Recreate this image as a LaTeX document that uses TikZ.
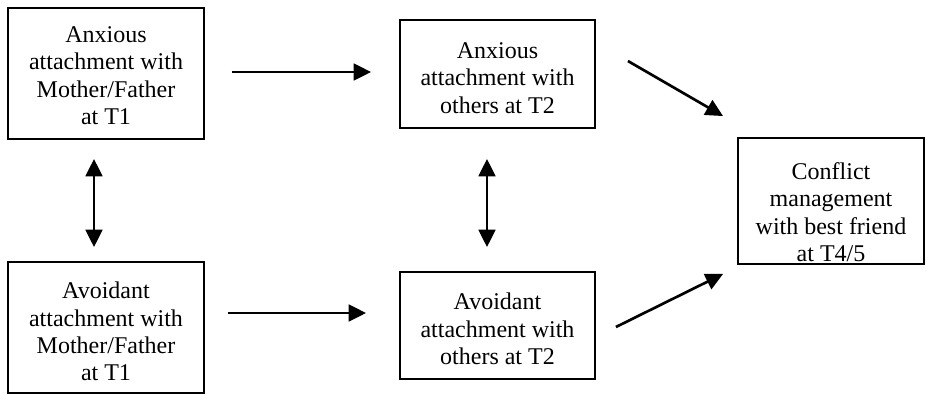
\documentclass[tikz,border=0pt]{standalone}
\usepackage{fontspec}
\setmainfont{Liberation Serif}
\usetikzlibrary{arrows.meta,calc}

\tikzset{
  box/.style={draw, line width=1.4pt, inner sep=0pt, rectangle},
  txt/.style={align=center, inner sep=0pt,
              font=\fontsize{18pt}{20.5pt}\selectfont},
  arr/.style={line width=2pt, -{Triangle[length=13pt,width=12.5pt]}},
  biarr/.style={line width=2pt,
                {Triangle[length=13pt,width=12.5pt]}-{Triangle[length=13pt,width=12.5pt]}}
}

\begin{document}
\begin{tikzpicture}[x=0.75pt,y=-0.75pt]
  \useasboundingbox (0,0) rectangle (926,394);

  % frames
  \node[box, minimum width=147pt, minimum height=98.25pt] (A) at (106,73.5) {};
  \node[box, minimum width=146.25pt, minimum height=81pt] (B) at (497.5,74) {};
  \node[box, minimum width=147pt, minimum height=98.25pt] (C) at (106,327.5) {};
  \node[box, minimum width=146.25pt, minimum height=80.25pt] (D) at (497.5,325.5) {};
  \node[box, minimum width=139.5pt, minimum height=94.5pt] (E) at (831,201) {};

  % texts
  \node[txt] (At) at ($(A.center)+(0,2)$) {Anxious\\attachment with\\Mother/Father\\at T1};
  \node[txt] (Bt) at ($(B.center)+(0,4)$) {Anxious\\attachment with\\others at T2};
  \node[txt] (Ct) at ($(C.center)+(0,4)$) {Avoidant\\attachment with\\Mother/Father\\at T1};
  \node[txt] (Dt) at ($(D.center)+(0,3.5)$) {Avoidant\\attachment with\\others at T2};
  \begin{scope}
    \clip (E.south west) rectangle (E.north east);
    \node[txt] (Et) at ($(E.center)+(0,11)$) {Conflict\\management\\with best friend\\at T4/5};
  \end{scope}

  % paths
  \draw[arr] ($(A.east)+(27,-1.5)$) -- ($(B.west)+(-28,-2)$);
  \draw[arr] ($(C.east)+(23,-14.5)$) -- ($(D.west)+(-33,-12.5)$);
  \draw[biarr] ($(A.south)+(-12,19)$) -- ($(C.north)+(-12,-14)$);
  \draw[biarr] ($(B.south)+(-10.5,30)$) -- ($(D.north)+(-10.5,-24)$);
  \draw[arr] ($(B.east)+(32,-13)$) -- ($(E.north west)+(-14,-21)$);
  \draw[arr] ($(D.east)+(20,1.5)$) -- ($(E.south west)+(-14,9)$);
\end{tikzpicture}
\end{document}
